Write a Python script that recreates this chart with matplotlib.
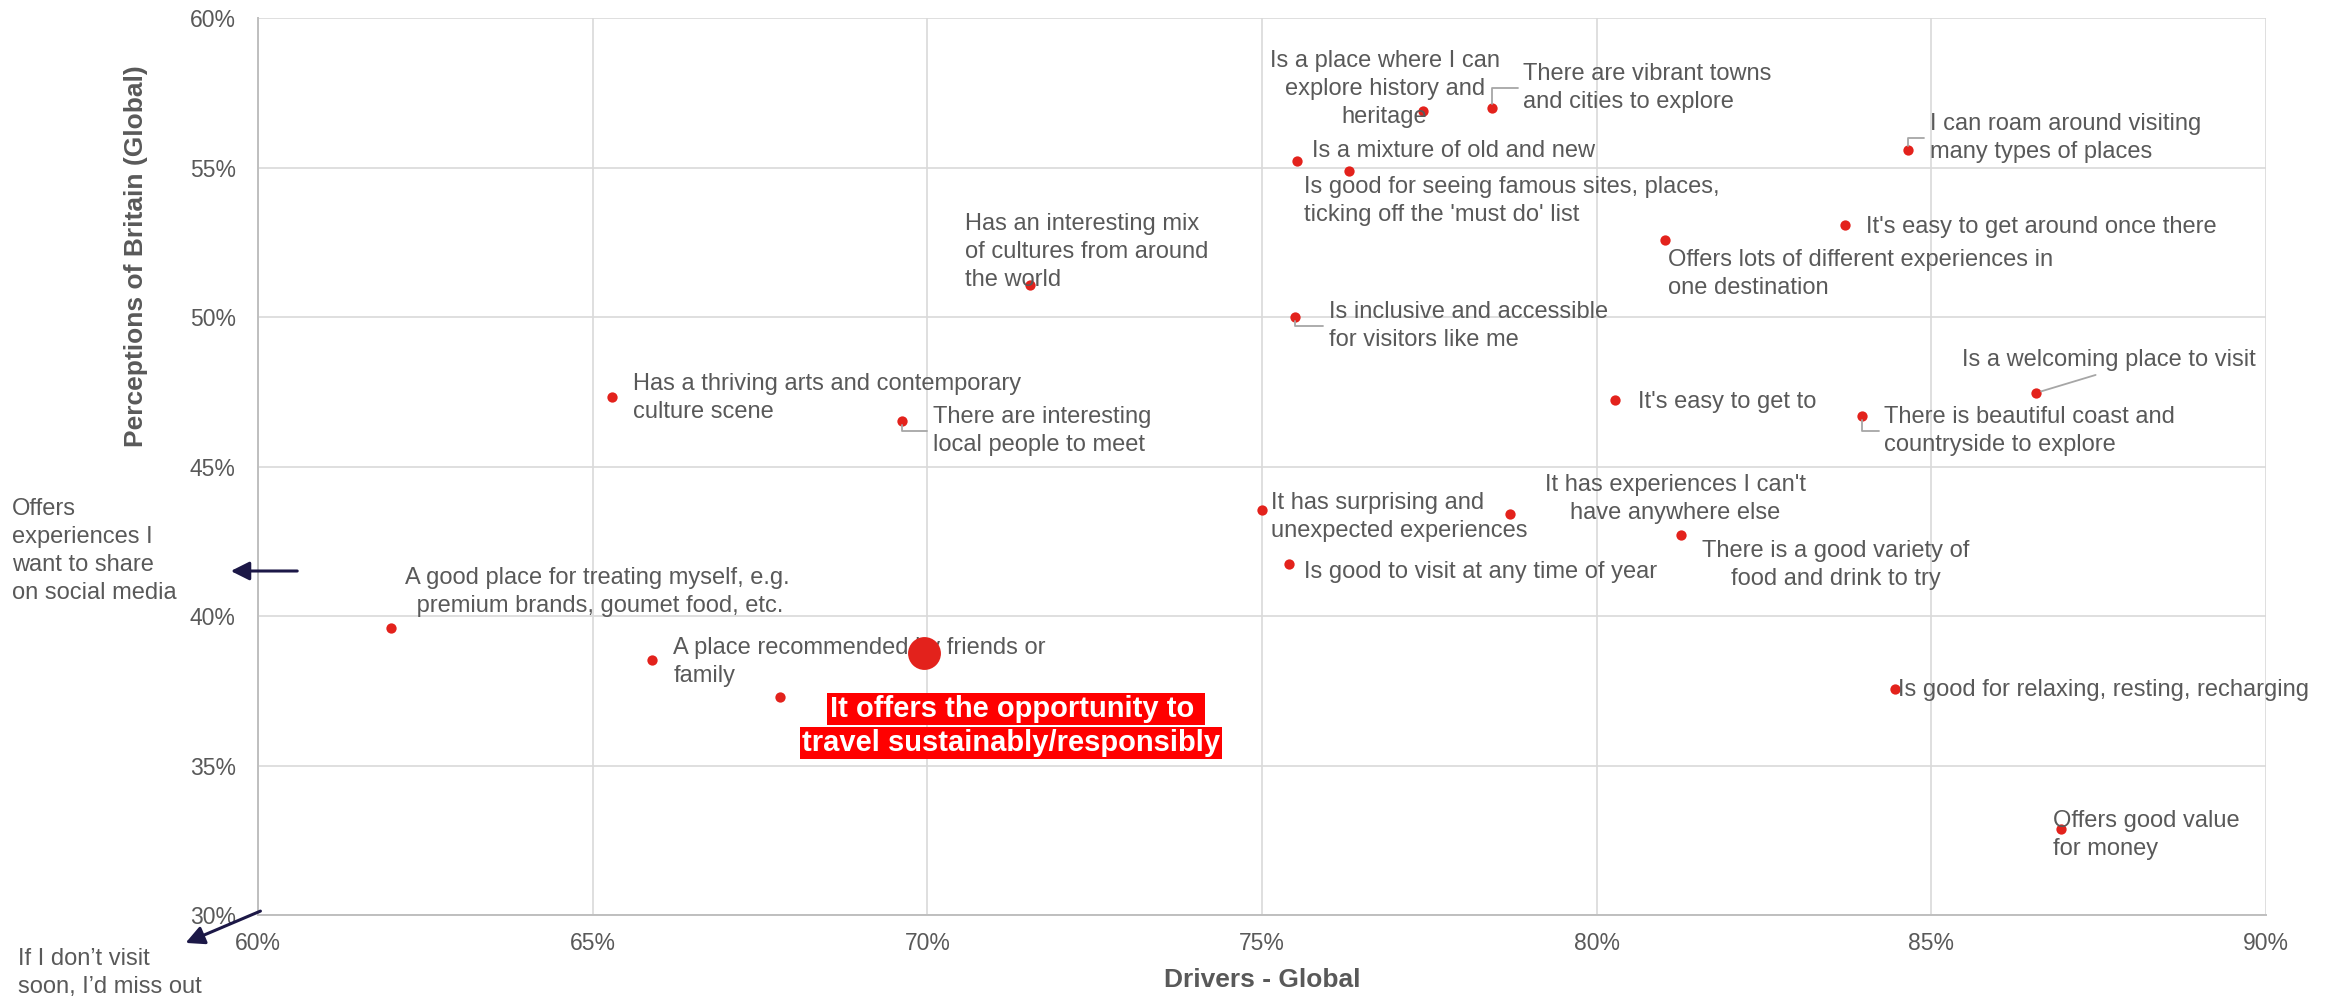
import matplotlib.pyplot as plt
from matplotlib.ticker import FuncFormatter

plt.rcParams['font.family'] = ['Liberation Sans', 'DejaVu Sans']

# Drivers - Global (x, %) and Perceptions of Britain (y, %)
labels = [
    "Is a place where I can\nexplore history and\nheritage",
    "There are vibrant towns\nand cities to explore",
    "Is a mixture of old and new",
    "Is good for seeing famous sites, places,\nticking off the 'must do' list",
    "I can roam around visiting\nmany types of places",
    "It's easy to get around once there",
    "Offers lots of different experiences in\none destination",
    "Has an interesting mix\nof cultures from around\nthe world",
    "Is inclusive and accessible\nfor visitors like me",
    "Is a welcoming place to visit",
    "It's easy to get to",
    "There is beautiful coast and\ncountryside to explore",
    "Has a thriving arts and contemporary\nculture scene",
    "There are interesting\nlocal people to meet",
    "It has surprising and\nunexpected experiences",
    "It has experiences I can't\nhave anywhere else",
    "There is a good variety of\nfood and drink to try",
    "Is good to visit at any time of year",
    "A good place for treating myself, e.g.\n premium brands, goumet food, etc.",
    "A place recommended by friends or\nfamily",
    "",
    "Is good for relaxing, resting, recharging",
    "Offers good value\nfor money",
]
drivers = [77.4, 78.44, 75.52, 76.3, 84.65, 83.71, 81.02, 71.53, 75.49, 86.56, 80.27,
           83.97, 65.29, 69.62, 75.0, 78.71, 81.26, 75.4, 61.99, 65.89, 67.8, 84.46, 86.94]
perceptions = [56.9, 57.0, 55.22, 54.88, 55.59, 53.08, 52.58, 51.07, 50.0, 47.46, 47.22,
               46.69, 47.32, 46.52, 43.55, 43.41, 42.71, 41.74, 39.6, 38.53, 37.29, 37.56, 32.88]

# highlighted statement
hl_label = ["It offers the opportunity to ", "travel sustainably/responsibly"]
hl_x = 69.95
hl_y = 38.76

off_charts = ["Offers\nexperiences I\nwant to share\non social media",
              "If I don\u2019t visit\nsoon, I\u2019d miss out"]

# label layout: offset in pixels, alignment, leader style
layout = [
    (-38, 22, 'center', None),
    (31, 20, 'left', 'elbow'),
    (15, 10, 'left', None),
    (-45, -30, 'left', None),
    (22, 12, 'left', 'elbow'),
    (21, -2, 'left', None),
    (3, -34, 'left', None),
    (-65, 33, 'left', None),
    (34, -9, 'left', 'elbow'),
    (73, 33, 'center', 'straight'),
    (23, -2, 'left', None),
    (22, -15, 'left', 'elbow'),
    (21, -1, 'left', None),
    (31, -10, 'left', 'elbow'),
    (9, -7, 'left', None),
    (165, 15, 'center', None),
    (155, -30, 'center', None),
    (15, -8, 'left', None),
    (206, 36, 'center', None),
    (21, -2, 'left', None),
    (0, 0, 'left', None),
    (3, -1, 'left', None),
    (-8, -6, 'left', None),
]

grey = '#595959'
red = '#e3221c'

fig = plt.figure(figsize=(23.41, 9.96), dpi=100)
ax = fig.add_axes([0.1102, 0.0813, 0.8578, 0.9006])

ax.scatter(drivers, perceptions, s=55, color=red, zorder=3, linewidths=0)
ax.scatter([hl_x], [hl_y], s=560, color=red, zorder=5, linewidths=0)

for lab, x, y, (dx, dy, ha, leader) in zip(labels, drivers, perceptions, layout):
    if not lab:
        continue
    props = None
    if leader == 'elbow':
        props = dict(arrowstyle='-', color='#a6a6a6', lw=1.3, relpos=(0, 0.5),
                     shrinkA=2, shrinkB=3,
                     connectionstyle='angle,angleA=0,angleB=90,rad=0')
    elif leader == 'straight':
        props = dict(arrowstyle='-', color='#a6a6a6', lw=1.3, relpos=(0.5, 0),
                     shrinkA=3, shrinkB=4)
    ax.annotate(lab, xy=(x, y), xytext=(dx, dy), textcoords='offset pixels',
                ha=ha, va='center', fontsize=17, color=grey, linespacing=1.35,
                arrowprops=props, zorder=4)

for line, (dx, dy) in zip(hl_label, [(92, -56), (87, -90)]):
    ax.annotate(line, xy=(hl_x, hl_y), xytext=(dx, dy), textcoords='offset pixels',
                ha='center', va='center', fontsize=21, fontweight='bold', color='white',
                bbox=dict(boxstyle='square,pad=0.08', fc='#ff0000', ec='none'), zorder=6)

ax.set_xlim(60, 90)
ax.set_ylim(30, 60)
ax.set_xticks(range(60, 91, 5))
ax.set_yticks(range(30, 61, 5))
ax.xaxis.set_major_formatter(FuncFormatter(lambda v, p: f'{v:.0f}%'))
ax.yaxis.set_major_formatter(FuncFormatter(lambda v, p: f'{v:.0f}%'))
ax.tick_params(axis='both', length=0, labelsize=16.5, labelcolor=grey)
ax.tick_params(axis='y', pad=16)
ax.tick_params(axis='x', pad=12)
ax.grid(True, color='#d9d9d9', lw=1.2, zorder=0)
ax.set_axisbelow(True)
for side in ['top', 'right']:
    ax.spines[side].set_visible(False)
for side in ['left', 'bottom']:
    ax.spines[side].set_color('#bfbfbf')
    ax.spines[side].set_linewidth(1.4)

ax.set_xlabel('Drivers - Global', fontsize=19, fontweight='bold', color=grey)
ax.set_ylabel('Perceptions of Britain (Global)', fontsize=19, fontweight='bold', color=grey)
ax.xaxis.set_label_coords(0.5, -0.059)
ax.yaxis.set_label_coords(-0.0548, 0.735)

# notes outside the plot
fig.text(12 / 2341, 1 - 551 / 996, off_charts[0], ha='left', va='center',
         fontsize=17, color=grey, linespacing=1.35)
fig.text(18 / 2341, 1 - 973 / 996, off_charts[1], ha='left', va='center',
         fontsize=17, color=grey, linespacing=1.35)
arrow = dict(arrowstyle='-|>', color='#1c1847', lw=2.2, mutation_scale=28)
ax.annotate('', xy=(228, 425), xycoords='figure pixels', xytext=(300, 425),
            textcoords='figure pixels', arrowprops=arrow, annotation_clip=False)
ax.annotate('', xy=(183, 52), xycoords='figure pixels', xytext=(263, 86),
            textcoords='figure pixels', arrowprops=arrow, annotation_clip=False)

plt.savefig('out.png', dpi=100)
